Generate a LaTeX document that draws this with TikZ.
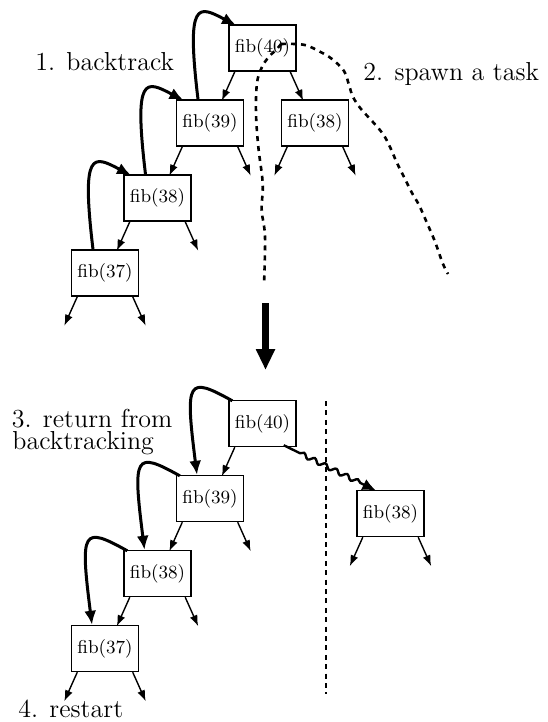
\documentclass[tikz,border=0pt]{standalone}
\usepackage{fontspec}
\usetikzlibrary{arrows.meta,calc,decorations.pathmorphing}
\newcommand\leftkid[1]{%
  \draw[kid] ($(#1.south west)+(6.5,0)$) -- ++(-13,29);}
\newcommand\kids[1]{%
  \leftkid{#1}
  \draw[kid] ($(#1.south east)+(-6.5,0)$) -- ++(13,29);}
\newcommand\backup[2]{%
  \draw[bt] ($(#1.north)+(-12,0)$) .. controls +(-12,-100) and +(-38,-20) .. ($(#2.north west)+(7.7,1)$);}
\newcommand\retn[2]{%
  \draw[bt] ($(#1.north west)+(4,1)$) .. controls +(-45,-25) and +(-12,-95) .. ($(#2.north)+(-13,0)$);}
\begin{document}
\begin{tikzpicture}[x=0.5pt,y=-0.5pt,
  fibbox/.style={draw, line width=0.7pt, minimum width=33.5pt, minimum height=23pt, inner sep=0pt, font=\fontsize{9.3}{11}\selectfont},
  kid/.style={line width=0.7pt, -{Latex[length=5.5pt,width=4pt]}},
  bt/.style={line width=1.5pt, -{Latex[length=7pt,width=6pt]}},
  dots/.style={line width=1.3pt, dash pattern=on 2.5pt off 2.5pt},
  lbl/.style={font=\fontsize{13}{10}\selectfont, inner sep=0pt, anchor=base west}]
\useasboundingbox (0,0) rectangle (547,722);

% ---- top tree ----
\node[fibbox] (t40) at (262.5,48) {fib(40)};
\node[fibbox] (t39) at (210,123) {fib(39)};
\node[fibbox] (t38r) at (315,123) {fib(38)};
\node[fibbox] (t38) at (157.5,198) {fib(38)};
\node[fibbox] (t37) at (105,273) {fib(37)};
\kids{t40}\kids{t39}\kids{t38r}\kids{t38}\kids{t37}
\backup{t39}{t40}
\backup{t38}{t39}
\backup{t37}{t38}

\coordinate (sp) at (281,44);
\draw[dots] plot[smooth, tension=0.6] coordinates {(sp) (276.7,49.3) (269,56.7) (262,67) (257,83) (256,113) (258.3,146.7) (262.7,183.3) (261.7,210) (265,236.7) (264,285)};
\draw[dots] plot[smooth, tension=0.6] coordinates {(sp) (295,44) (306.7,45.5) (320,51.7) (332,59) (344,71) (349,85) (353,97) (361,109) (372,121) (383,134) (390,147) (397,163) (404,177) (412,193) (419,205) (427,223) (435,241.7) (442.7,263.3) (448,274)};

\node[lbl] (l1) at (35,70.5) {1. backtrack};
\node[lbl] (l2) at (363,81) {2. spawn a task};

% ---- big arrow ----
\coordinate (a1) at (265.5,303);
\coordinate (a2) at (265.5,370);
\draw[line width=3.5pt, -{Triangle[length=10.5pt,width=9pt]}] (a1) -- (a2);

% ---- bottom tree ----
\node[fibbox] (b40) at (262.5,423.5) {fib(40)};
\node[fibbox] (b39) at (210,498.5) {fib(39)};
\node[fibbox] (b38) at (157.5,573.5) {fib(38)};
\node[fibbox] (b37) at (105,648.5) {fib(37)};
\node[fibbox] (b38r) at (390.5,513.5) {fib(38)};
\leftkid{b40}\kids{b39}\kids{b38}\kids{b37}\kids{b38r}
\retn{b40}{b39}
\retn{b39}{b38}
\retn{b38}{b37}

\coordinate (v1) at (326,401);
\coordinate (v2) at (326,694);
\draw[line width=1.3pt, dash pattern=on 2.5pt off 2.2pt] (v1) -- (v2);

\draw[line width=1.2pt, -{Latex[length=7pt,width=6pt]}, decorate,
  decoration={snake, amplitude=1.1pt, segment length=6pt, pre length=9pt, post length=8pt}]
  ($(b40.south east)+(-13,-2)$) -- ($(b38r.north west)+(20,1)$);

\node[lbl] (l3) at (11.5,427.5) {3. return from};
\node[lbl] (l3b) at (12,449.5) {backtracking};
\node[lbl] (l4) at (18,717) {4. restart};
\end{tikzpicture}
\end{document}
